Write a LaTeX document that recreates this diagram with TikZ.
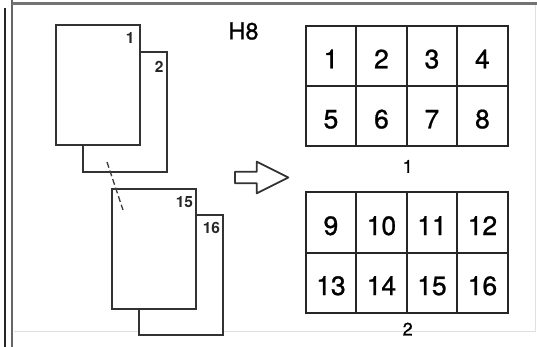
\documentclass[tikz,border=0pt]{standalone}
\usepackage{fontspec}
\setmainfont{TeX Gyre Heros}
\newfontfamily\heavyfont[FakeBold=0.9]{TeX Gyre Heros}
\usetikzlibrary{positioning, calc}

\begin{document}
\begin{tikzpicture}[x=1pt, y=-1pt,
        % Define styles
        page/.style={draw=black!80, line width=1.6pt, fill=white, rectangle, minimum width=84pt, minimum height=120pt},
        pagenum/.style={font=\bfseries\fontsize{15.5}{15.5}\selectfont, text=black!85, inner sep=0pt, anchor=north east},
        cell/.style={draw=black!85, line width=2pt, rectangle, minimum width=50.5pt, minimum height=60pt, text height=25pt, text depth=0pt, inner sep=0pt, font=\heavyfont\fontsize{26.5}{26.5}\selectfont},
        sheetlabel/.style={font=\heavyfont\fontsize{18}{18}\selectfont, inner sep=0pt},
        fold/.style={draw=black!75, line width=1.3pt, dash pattern=on 6pt off 3pt},
        hollowarrow/.style={draw=black!80, line width=1.8pt, line join=round, fill=white}
    ]
    \useasboundingbox (0,0) rectangle (537,347);

    % --- Frame ---
    \draw[black!12, line width=1pt] (14,331) -- (535,331) -- (535,4);
    \draw[black!85, line width=2.5pt] (5,8) -- (5,347);
    \draw[black!60, line width=2pt] (12,0) -- (12,347);
    \draw[black!55, line width=3pt] (12,4) -- (537,4);

    \node[font=\heavyfont\fontsize{23.5}{23.5}\selectfont, inner sep=0pt] (title) at (243.5,31) {H8};

    % --- Originals ---
    \node[page] (pg2) at (124.8,111.8) {};
    \node[page] (pg1) at ([shift={(-27,-27)}]pg2.center) {};
    \node[page] (pg16) at (181,275.2) {};
    \node[page] (pg15) at ([shift={(-27,-26)}]pg16.center) {};

    \node[pagenum] (n1) at ([shift={(-6,8)}]pg1.north east) {1};
    \node[pagenum] (n2) at ([shift={(-4,10)}]pg2.north east) {2};
    \node[pagenum] (n15) at ([shift={(-3.5,8)}]pg15.north east) {15};
    \node[pagenum] (n16) at ([shift={(-3.5,8)}]pg16.north east) {16};

    % dashed line between the two stacks
    \coordinate (foldA) at (107,162);
    \coordinate (foldB) at (123,210);
    \draw[fold] (foldA) -- (foldB);

    % --- Arrow ---
    \draw[hollowarrow] (235,171.7) -- (256.7,171.7) -- (256.7,161.7) -- (288.3,177.5)
        -- (256.7,193.3) -- (256.7,183.3) -- (235,183.3) -- cycle;

    % --- Printed sheets ---
    \foreach \r in {0,1}
      \foreach \c in {0,...,3} {
        \pgfmathtruncatemacro\k{4*\r+\c+1}
        \node[cell] (a\k) at (330.95+50.5*\c, 55.85+60*\r) {\k};
      }
    \foreach \r in {0,1}
      \foreach \c in {0,...,3} {
        \pgfmathtruncatemacro\k{4*\r+\c+9}
        \node[cell] (a\k) at (330.95+50.5*\c, 222.5+60*\r) {\k};
      }

    \node[sheetlabel, below=13pt of a6.south east] (sheet1) {1};
    \node[sheetlabel, below=9pt of a14.south east] (sheet2) {2};

\end{tikzpicture}
\end{document}
